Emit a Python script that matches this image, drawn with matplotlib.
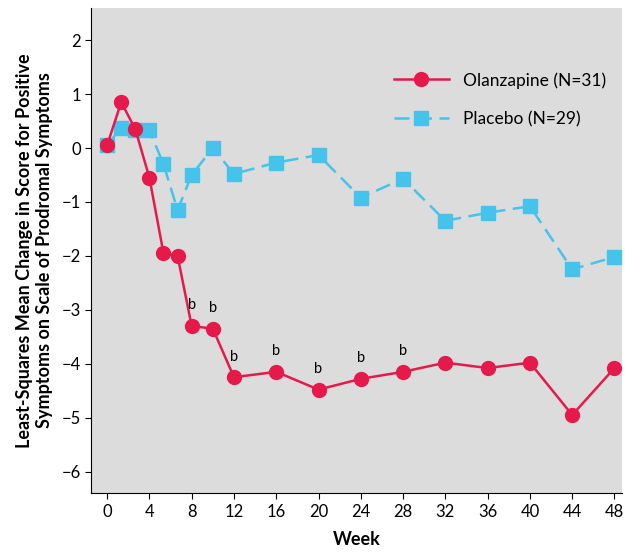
import matplotlib
matplotlib.use("Agg")
import matplotlib.pyplot as plt

plt.rcParams["font.family"] = ["Lato", "DejaVu Sans"]

weeks = [0, 4 / 3, 8 / 3, 4, 16 / 3, 20 / 3, 8, 10, 12, 16, 20, 24, 28, 32, 36, 40, 44, 48]
olanzapine = [0.05, 0.85, 0.35, -0.55, -1.95, -2.0, -3.3, -3.35, -4.25, -4.15, -4.48,
              -4.28, -4.15, -3.98, -4.08, -3.98, -4.95, -4.08]
placebo = [0.05, 0.38, 0.33, 0.33, -0.3, -1.15, -0.5, 0.0, -0.48, -0.27, -0.13,
           -0.92, -0.57, -1.35, -1.2, -1.08, -2.25, -2.02]
b_weeks = [8, 10, 12, 16, 20, 24, 28]
xticks = list(range(0, 49, 4))

fig, ax = plt.subplots(figsize=(6.25, 5.56), dpi=100)
fig.subplots_adjust(left=0.146, right=0.995, top=0.986, bottom=0.113)
ax.set_facecolor("#dcdcdc")

ax.plot(weeks, placebo, color="#45c3ea", linestyle=(0, (6, 3)), linewidth=1.8,
        marker="s", markersize=10, label="Placebo (N=29)")
ax.plot(weeks, olanzapine, color="#e5194a", linewidth=1.8,
        marker="o", markersize=10, label="Olanzapine (N=31)")

for w in b_weeks:
    y = olanzapine[weeks.index(w)]
    ax.text(w, y + 0.25, "b", ha="center", va="bottom", fontsize=10.5)

ax.set_xlim(-1.5, 48.7)
ax.set_ylim(-6.4, 2.6)
ax.set_xticks(xticks)
ax.set_yticks(range(-6, 3))
ax.set_yticklabels(["\u22126", "\u22125", "\u22124", "\u22123", "\u22122", "\u22121", "0", "1", "2"])
ax.tick_params(labelsize=12, length=4)
for s in ["top", "right"]:
    ax.spines[s].set_visible(False)

ax.set_xlabel("Week", fontsize=13, fontweight="bold", labelpad=8)
ax.set_ylabel("Least-Squares Mean Change in Score for Positive\nSymptoms on Scale of Prodromal Symptoms",
              fontsize=13, fontweight="bold", labelpad=6)

h, l = ax.get_legend_handles_labels()
ax.legend(h[::-1], l[::-1], loc="upper right", frameon=False, fontsize=12.5,
          handlelength=3.2, labelspacing=1.3, bbox_to_anchor=(1.0, 0.9))

fig.savefig("out.png")
